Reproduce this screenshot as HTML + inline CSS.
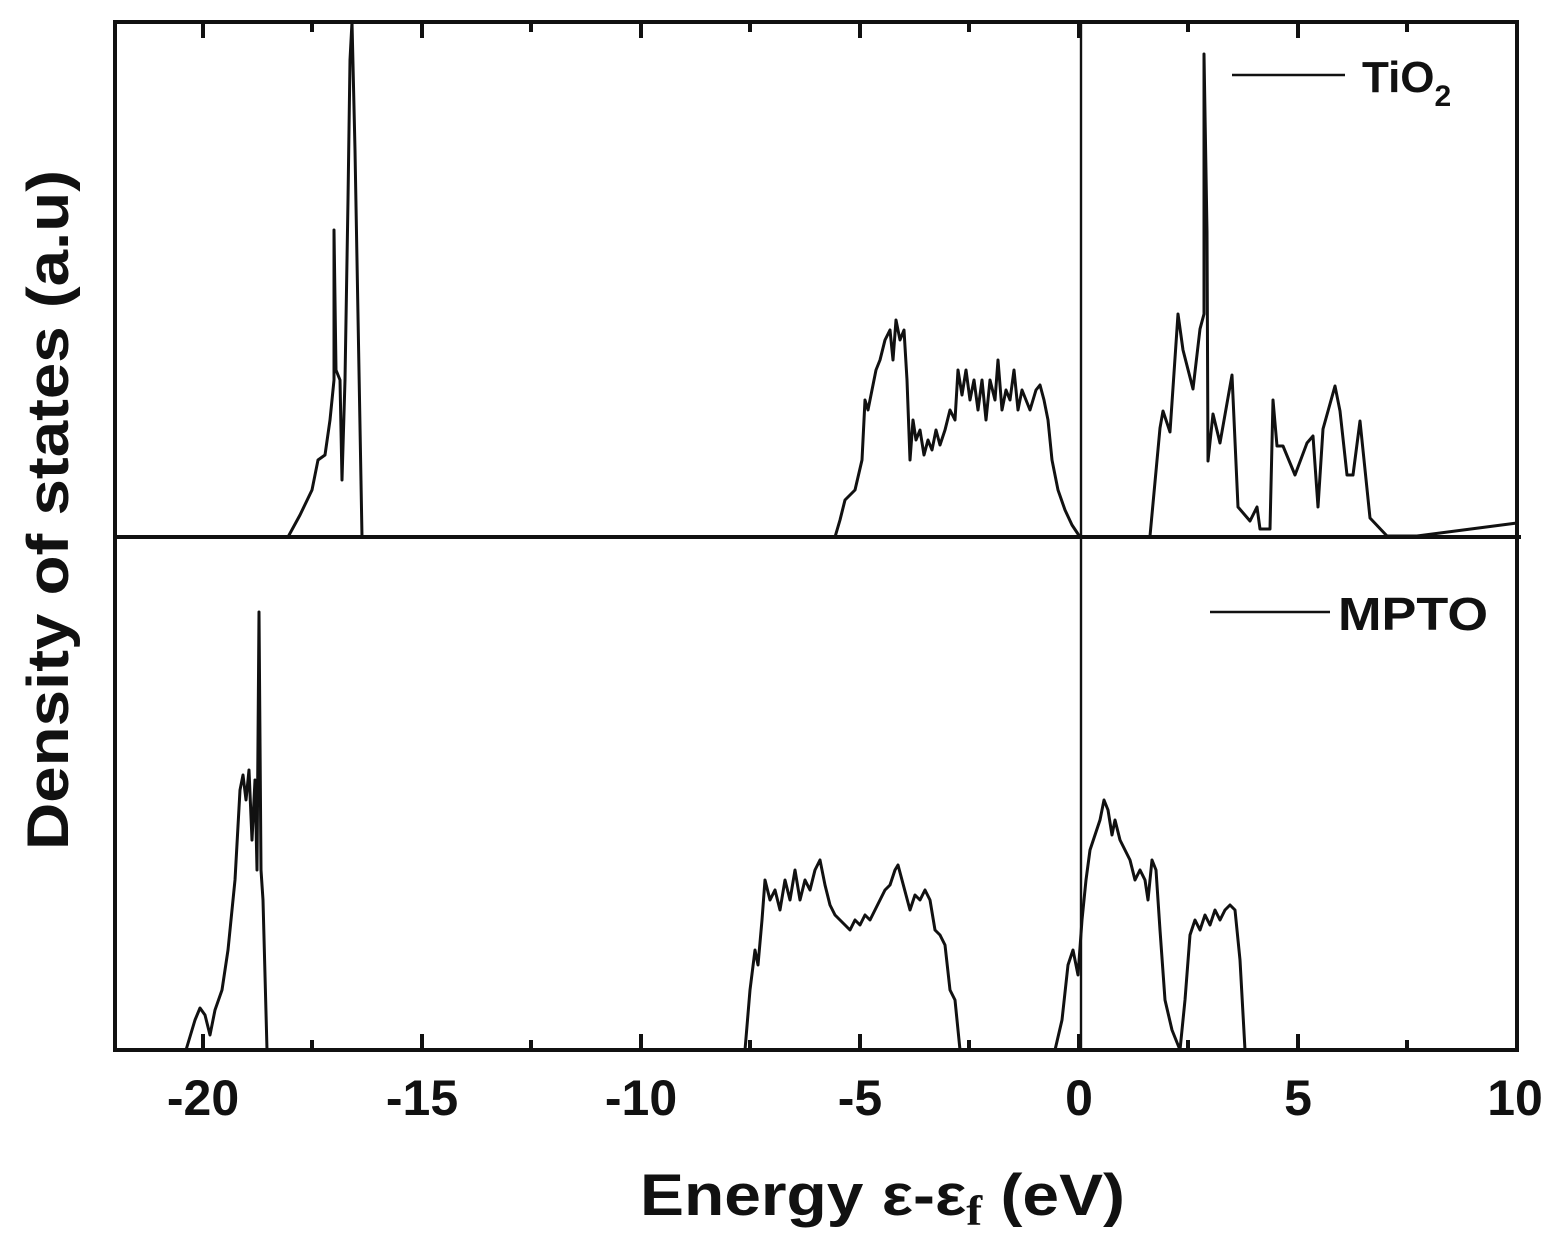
<!DOCTYPE html>
<html><head><meta charset="utf-8"><style>body{margin:0;background:#fff}svg{display:block}</style></head><body>
<svg width="1561" height="1248" viewBox="0 0 1561 1248" xmlns="http://www.w3.org/2000/svg" font-family="Liberation Sans, Arial, sans-serif" font-weight="bold">
<g fill="none" stroke="#111" stroke-width="3" stroke-linejoin="round">
<polyline points="288,537 300,515 312,490 318,460 325,455 330,420 334,380 334,230 336,370 340,380 342,480 345,380 348,200 350,60 352,22 355,150 362,537"/>
<polyline points="835,537 840,520 845,500 855,490 862,460 865,400 868,410 872,390 876,370 880,360 885,340 890,330 893,360 896,320 900,340 904,330 907,380 910,460 913,420 916,440 920,430 924,455 928,440 932,450 936,430 940,445 945,430 950,410 955,420 958,370 962,395 966,370 970,400 974,380 978,410 982,380 986,420 990,380 995,400 998,360 1002,410 1006,390 1010,400 1014,370 1018,410 1022,390 1026,400 1030,410 1036,390 1040,385 1044,400 1048,420 1052,460 1058,490 1065,510 1072,525 1080,537"/>
<polyline points="1150,536 1160,428 1163,411 1170,432 1178,314 1183,350 1193,389 1200,329 1204,314 1204,54 1207,232 1208,461 1213,414 1220,443 1232,375 1238,507 1250,521 1257,507 1260,529 1270,529 1273,400 1277,446 1283,446 1295,475 1307,443 1313,436 1318,507 1323,429 1335,386 1340,411 1347,475 1353,475 1360,421 1370,518 1387,536 1417,536 1517,523"/>
<polyline points="186,1050 195,1020 200,1008 205,1015 210,1035 215,1010 222,990 228,950 235,880 240,790 243,775 246,800 249,770 252,840 255,780 257,870 259,612 261,870 263,900 267,1050"/>
<polyline points="745,1050 750,990 755,950 758,965 762,920 765,880 770,900 775,890 780,910 785,880 790,900 795,870 800,900 805,880 810,890 815,870 820,860 825,885 830,905 835,915 840,920 845,925 850,930 855,920 860,925 865,915 870,920 875,910 880,900 885,890 890,885 895,870 898,865 902,880 906,895 910,910 915,895 920,900 925,890 930,900 935,930 940,935 945,945 950,990 955,1000 960,1050"/>
<polyline points="1055,1050 1062,1020 1068,965 1073,950 1078,975 1082,920 1086,880 1090,850 1095,835 1100,820 1104,800 1108,810 1112,835 1115,820 1120,840 1125,850 1130,860 1135,880 1140,870 1145,880 1148,900 1152,860 1156,870 1160,930 1165,1000 1172,1030 1180,1050 1185,1000 1190,935 1195,920 1200,930 1205,915 1210,925 1215,910 1220,920 1225,910 1230,905 1235,910 1240,960 1245,1050"/>
<line x1="1081" y1="22" x2="1081" y2="1050" stroke-width="2.4"/>
<line x1="1232" y1="75" x2="1345" y2="75" stroke-width="2.6"/>
<line x1="1210" y1="612" x2="1330" y2="612" stroke-width="2.6"/>
</g>
<g fill="none" stroke="#111" stroke-width="4">
<rect x="115" y="22" width="1402" height="1028"/>
<line x1="113" y1="537" x2="1521" y2="537"/>
<path d="M203,1050v-16M422,1050v-16M641,1050v-16M860,1050v-16M1079,1050v-16M1298,1050v-16M312,1050v-10M531,1050v-10M750,1050v-10M969,1050v-10M1188,1050v-10M1407,1050v-10"/>
<path d="M203,22v16M422,22v16M641,22v16M860,22v16M1079,22v16M1298,22v16M312,22v10M531,22v10M750,22v10M969,22v10M1188,22v10M1407,22v10"/>
</g>
<g fill="#111" font-size="50" text-anchor="middle">
<text x="203" y="1115">-20</text>
<text x="422" y="1115">-15</text>
<text x="641" y="1115">-10</text>
<text x="860" y="1115">-5</text>
<text x="1079" y="1115">0</text>
<text x="1298" y="1115">5</text>
<text x="1515" y="1115">10</text>
</g>
<text x="1362" y="92" font-size="44" fill="#111">TiO<tspan font-size="30" dy="14">2</tspan></text>
<text x="1338" y="630" font-size="46" fill="#111" textLength="150" lengthAdjust="spacingAndGlyphs">MPTO</text>
<text x="640" y="1215" font-size="58" fill="#111" textLength="485" lengthAdjust="spacingAndGlyphs">Energy ε-ε<tspan font-size="42" dy="10" font-family="Liberation Serif, serif">f</tspan><tspan dy="-10"> (eV)</tspan></text>
<text transform="translate(68,850) rotate(-90)" font-size="58" fill="#111" textLength="680" lengthAdjust="spacingAndGlyphs">Density of states (a.u)</text>
</svg>
</body></html>
